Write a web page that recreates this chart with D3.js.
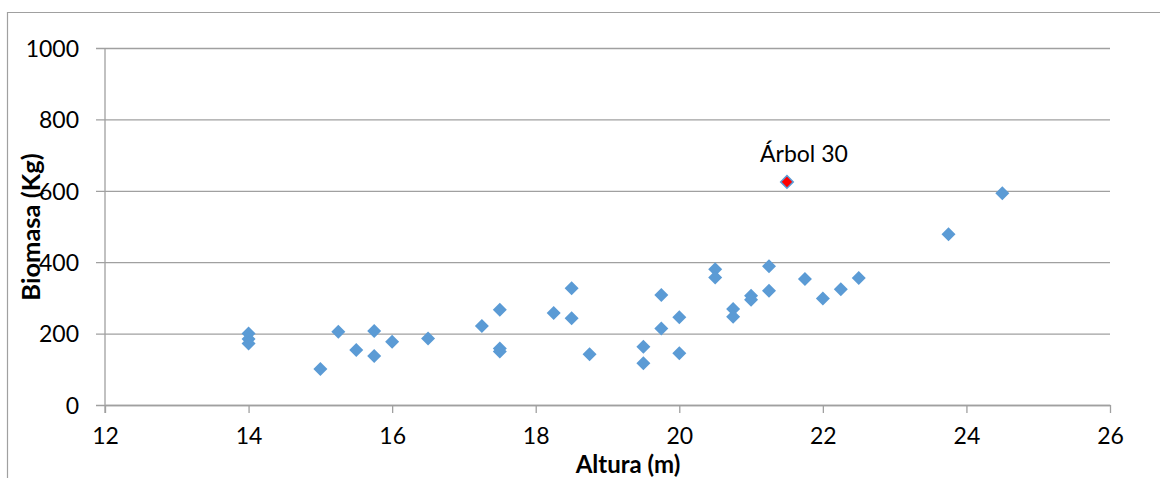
<!DOCTYPE html>
<html>
<head>
<meta charset="utf-8">
<script src="https://cdn.jsdelivr.net/npm/d3@7/dist/d3.min.js"></script>
<style>
  html, body { margin: 0; padding: 0; background: #fff; }
  svg { display: block; }
  text { font-family: Lato, "Open Sans", sans-serif; fill: #000; }
</style>
</head>
<body>
<svg id="chart" width="1160" height="478"></svg>
<script>
// Tree height (m) and biomass (kg) per sampled tree
const altura = [14, 14, 14, 15, 15.25, 15.5, 15.75, 15.75, 16, 16.5,
  17.25, 17.5, 17.5, 17.5, 18.25, 18.5, 18.5, 18.75, 19.5, 19.5,
  19.75, 19.75, 20, 20, 20.5, 20.5, 20.75, 20.75, 21, 21,
  21.25, 21.25, 21.5, 21.75, 22, 22.25, 22.5, 23.75, 24.5];
const biomasa = [200, 185, 172, 101, 205, 154, 207, 137, 177, 186,
  221, 267, 158, 150, 258, 327, 243, 142, 163, 117,
  308, 214, 246, 145, 380, 357, 269, 247, 306, 295,
  389, 320, 625, 353, 298, 324, 356, 478, 593];
// The outlier tree that gets its own colour and label
const highlightIndex = 32;
const highlightLabel = "Árbol 30";

const xTicks = [12, 14, 16, 18, 20, 22, 24, 26];
const yTicks = [0, 200, 400, 600, 800, 1000];
const xTitle = "Altura (m)";
const yTitle = "Biomasa (Kg)";

const svg = d3.select("#chart");
const x = d3.scaleLinear().domain([12, 26]).range([105, 1110]);
const y = d3.scaleLinear().domain([0, 1000]).range([405, 48]);
const gridColor = "#a0a0a0";

// chart frame (cut off at the right and bottom edges)
svg.append("path")
  .attr("d", "M7.5,478 L7.5,12.5 L1160,12.5")
  .attr("fill", "none").attr("stroke", gridColor).attr("stroke-width", 1.2);

// horizontal gridlines with outside tick stubs
const yAxis = d3.axisLeft(y).tickValues(yTicks)
  .tickSize(-(x.range()[1] - x.range()[0]))
  .tickFormat(d3.format("d"));
const gy = svg.append("g").attr("transform", `translate(${x.range()[0]},0)`).call(yAxis);
gy.select(".domain").remove();
gy.selectAll(".tick line")
  .attr("x1", -9).attr("x2", x.range()[1] - x.range()[0])
  .attr("stroke", gridColor).attr("stroke-width", 1.3);
gy.selectAll(".tick text")
  .attr("x", -26).attr("dy", "0.36em")
  .style("font-size", "23px").style("font-family", "Lato");

// vertical value axis line
svg.append("line")
  .attr("x1", x(12)).attr("x2", x(12)).attr("y1", y(1000)).attr("y2", y(0) + 8)
  .attr("stroke", gridColor).attr("stroke-width", 1.3);

// x axis
const xAxis = d3.axisBottom(x).tickValues(xTicks).tickSize(8).tickSizeOuter(0)
  .tickFormat(d3.format("d"));
const gx = svg.append("g").attr("transform", `translate(0,${y(0)})`).call(xAxis);
gx.select(".domain").attr("stroke", gridColor).attr("stroke-width", 1.3);
gx.selectAll(".tick line").attr("stroke", gridColor).attr("stroke-width", 1.3);
gx.selectAll(".tick text")
  .attr("y", 23).attr("dy", "0.71em")
  .style("font-size", "23px").style("font-family", "Lato");

// axis titles
svg.append("text")
  .attr("x", 628).attr("y", 472.5)
  .attr("text-anchor", "middle")
  .style("font-size", "24px").style("font-weight", "bold")
  .text(xTitle);
svg.append("text")
  .attr("transform", "translate(40,227) rotate(-90)")
  .attr("text-anchor", "middle")
  .style("font-size", "25.5px").style("font-weight", "bold")
  .text(yTitle);

// diamond markers
const diamond = r => `M0,${-r} L${r},0 L0,${r} L${-r},0 Z`;
const pts = altura.map((a, i) => ({ a, b: biomasa[i], i }));
svg.append("g").selectAll("path")
  .data(pts.filter(d => d.i !== highlightIndex))
  .join("path")
  .attr("d", diamond(7))
  .attr("transform", d => `translate(${x(d.a)},${y(d.b)})`)
  .attr("fill", "#5b9bd5");

const hp = pts[highlightIndex];
svg.append("path")
  .attr("d", diamond(6.3))
  .attr("transform", `translate(${x(hp.a)},${y(hp.b)})`)
  .attr("fill", "#ff0000").attr("stroke", "#5b9bd5").attr("stroke-width", 1.5);
svg.append("text")
  .attr("x", x(hp.a) + 17).attr("y", y(hp.b) - 20)
  .attr("text-anchor", "middle")
  .style("font-size", "23px")
  .text(highlightLabel);
</script>
</body>
</html>
